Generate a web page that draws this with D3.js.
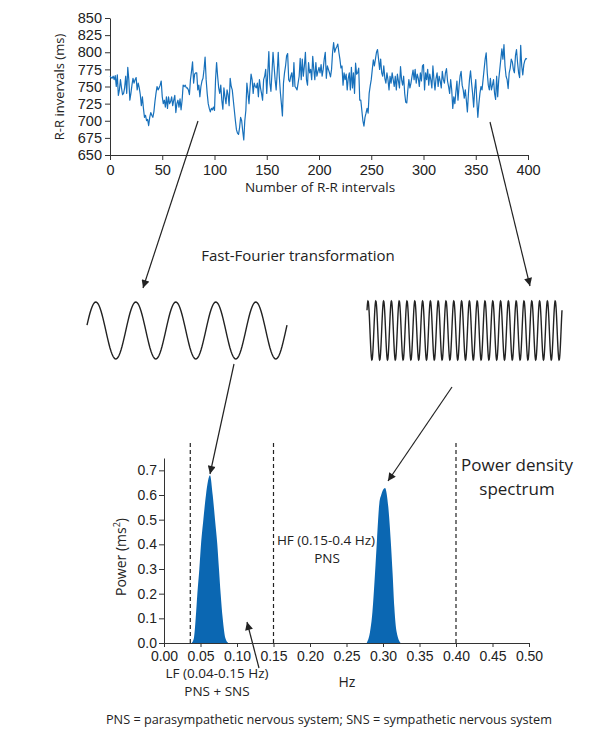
<!DOCTYPE html>
<html>
<head>
<meta charset="utf-8">
<script src="https://cdn.jsdelivr.net/npm/d3@7"></script>
<style>
  body { margin: 0; background: #fff; }
  svg { display: block; font-family: "Open Sans", sans-serif; }
  .axis path, .axis line { stroke: #333; }
  .axis text { fill: #222; }
</style>
</head>
<body>
<div id="chart"></div>
<script>
// R-R intervals (ms), one per beat, index 0..399
var rrValues = [
  765, 763, 762, 765, 760, 766, 750, 767, 737, 745,
  760, 748, 738, 740, 748, 765, 740, 778, 760, 730,
  740, 752, 762, 755, 760, 763, 745, 755, 748, 738,
  722, 735, 718, 705, 708, 700, 702, 693, 705, 712,
  708, 705, 713, 728, 740, 750, 745, 748, 752, 758,
  735, 725, 730, 720, 735, 718, 735, 725, 728, 735,
  722, 730, 737, 712, 725, 730, 720, 732, 716, 730,
  752, 750, 752, 748, 748, 745, 738, 760, 772, 786,
  755, 768, 770, 770, 745, 752, 735, 750, 758, 762,
  775, 793, 760, 740, 725, 718, 713, 718, 716, 720,
  715, 760, 785, 765, 748, 740, 752, 730, 717, 748,
  735, 725, 745, 738, 722, 762, 750, 745, 730, 715,
  700, 687, 682, 680, 690, 705, 700, 685, 672, 700,
  715, 755, 740, 725, 748, 768, 760, 740, 755, 750,
  748, 755, 735, 760, 748, 740, 730, 760, 765, 775,
  740, 770, 801, 755, 743, 770, 800, 780, 760, 745,
  770, 800, 765, 742, 725, 707, 755, 770, 780, 795,
  798, 760, 757, 765, 770, 750, 785, 750, 748, 745,
  755, 765, 791, 760, 790, 765, 780, 800, 760, 752,
  785, 770, 775, 760, 794, 775, 760, 785, 765, 772,
  778, 770, 782, 765, 775, 790, 800, 762, 780, 775,
  770, 764, 775, 800, 814, 800, 805, 808, 812, 800,
  790, 777, 780, 752, 770, 760, 768, 745, 762, 770,
  745, 778, 748, 770, 740, 784, 768, 770, 777, 730,
  730, 715, 700, 692, 705, 711, 718, 711, 740, 751,
  760, 775, 789, 780, 790, 800, 804, 790, 775, 790,
  770, 765, 780, 762, 755, 770, 760, 745, 765, 755,
  770, 760, 750, 765, 745, 768, 758, 748, 779, 760,
  752, 765, 740, 727, 726, 745, 760, 748, 755, 765,
  774, 760, 775, 755, 768, 762, 750, 770, 758, 780,
  782, 745, 770, 760, 775, 752, 768, 760, 748, 780,
  760, 745, 762, 770, 750, 765, 758, 748, 772, 760,
  755, 770, 776, 758, 750, 740, 760, 745, 718, 735,
  725, 742, 758, 730, 750, 765, 772, 752, 745, 733,
  745, 730, 713, 740, 760, 773, 755, 740, 720, 745,
  760, 730, 705, 725, 740, 750, 745, 760, 775, 790,
  799, 770, 752, 745, 762, 745, 752, 760, 740, 731,
  765, 735, 760, 775, 790, 805, 790, 811, 780, 765,
  760, 747, 770, 777, 790, 786, 775, 770, 795, 804,
  785, 770, 763, 810, 780, 767, 782, 788, 791, 790
];
var rrTicksX = [0, 50, 100, 150, 200, 250, 300, 350, 400];
var rrTicksY = [650, 675, 700, 725, 750, 775, 800, 825, 850];

// power spectrum peaks (Hz, ms^2)
var lfHz  = [0.038, 0.041, 0.0434, 0.0457, 0.0484, 0.0507, 0.0539, 0.0575, 0.063, 0.0667, 0.0699, 0.073, 0.0753, 0.0776, 0.0804, 0.084, 0.088];
var lfPow = [0, 0.02, 0.1, 0.2, 0.3, 0.4, 0.5, 0.6, 0.68, 0.6, 0.5, 0.4, 0.3, 0.2, 0.1, 0.02, 0];
var hfHz  = [0.2777, 0.2822, 0.2849, 0.289, 0.2918, 0.295, 0.2975, 0.3027, 0.3073, 0.3105, 0.3132, 0.3155, 0.3187, 0.3242];
var hfPow = [0, 0.045, 0.106, 0.28, 0.42, 0.567, 0.6, 0.628, 0.55, 0.42, 0.28, 0.146, 0.045, 0];
var bandEdges = [0.036, 0.15, 0.40];
var hzTicks = [0, 0.05, 0.1, 0.15, 0.2, 0.25, 0.3, 0.35, 0.4, 0.45, 0.5];
var powTicks = [0, 0.1, 0.2, 0.3, 0.4, 0.5, 0.6, 0.7];

// schematic waves: number of cycles drawn
var waveCycles = [5, 25];

var W = 599, H = 738;
var blue = "#0b67b2";
var ink = "#222";

var svg = d3.select("#chart").append("svg")
    .attr("width", W)
    .attr("height", H);

svg.append("defs").append("marker")
    .attr("id", "head")
    .attr("viewBox", "0 0 10 10")
    .attr("refX", 10).attr("refY", 5)
    .attr("markerWidth", 10).attr("markerHeight", 8)
    .attr("markerUnits", "userSpaceOnUse")
    .attr("orient", "auto")
  .append("path")
    .attr("d", "M0,0 L10,5 L0,10 Z")
    .attr("fill", ink);

// ---------- top: R-R tachogram ----------
var xTop = d3.scaleLinear().domain([0, 400]).range([110, 528]);
var yTop = d3.scaleLinear().domain([650, 850]).range([155, 18]);

svg.append("g")
    .attr("class", "axis")
    .attr("transform", "translate(0,155)")
    .call(d3.axisBottom(xTop).tickValues(rrTicksX).tickSize(5).tickSizeOuter(0))
    .call(g => g.selectAll("text").attr("font-size", 14.5).attr("dy", "0.85em"));

svg.append("g")
    .attr("class", "axis")
    .attr("transform", "translate(110,0)")
    .call(d3.axisLeft(yTop).tickValues(rrTicksY).tickSize(5).tickSizeOuter(0))
    .call(g => g.selectAll("text").attr("font-size", 14.5).attr("x", -8));

svg.append("path")
    .datum(rrValues)
    .attr("fill", "none")
    .attr("stroke", "#1770bb")
    .attr("stroke-width", 1.2)
    .attr("stroke-linejoin", "round")
    .attr("d", d3.line().x((d, i) => xTop(i)).y(d => yTop(d)));

svg.append("text")
    .attr("transform", "translate(64,87) rotate(-90)")
    .attr("text-anchor", "middle")
    .attr("font-size", 13)
    .attr("fill", ink)
    .text("R-R invervals (ms)");

svg.append("text")
    .attr("x", 320).attr("y", 192)
    .attr("text-anchor", "middle")
    .attr("font-size", 13.5)
    .attr("fill", ink)
    .text("Number of R-R intervals");

// ---------- middle: FFT sketch ----------
svg.append("text")
    .attr("x", 298).attr("y", 261)
    .attr("text-anchor", "middle")
    .attr("font-size", 15)
    .attr("fill", ink)
    .text("Fast-Fourier transformation");

function wave(cycles, x0, x1, phase, amp) {
    var t = d3.scaleLinear().domain([0, cycles]).range([x0, x1]);
    var n = cycles * 40;
    var pts = d3.range(n + 1).map(k => {
        var c = k / n * cycles;
        return [t(c), 330.5 - amp * Math.sin(2 * Math.PI * (c + phase))];
    });
    svg.append("path")
        .attr("d", d3.line()(pts))
        .attr("fill", "none")
        .attr("stroke", ink)
        .attr("stroke-width", 1.4);
}
wave(waveCycles[0], 87, 287, 0.03, 28.5);
wave(waveCycles[1], 367, 562, 0.12, 29.5);

function arrow(x1, y1, x2, y2) {
    svg.append("line")
        .attr("x1", x1).attr("y1", y1)
        .attr("x2", x2).attr("y2", y2)
        .attr("stroke", ink)
        .attr("stroke-width", 1.2)
        .attr("marker-end", "url(#head)");
}
arrow(198, 121, 143, 288);
arrow(490, 122, 530, 286);
arrow(234, 364, 210, 474);
arrow(452, 387, 388, 481);
arrow(259, 668, 247, 622);

// ---------- bottom: power density spectrum ----------
var xHz = d3.scaleLinear().domain([0, 0.5]).range([164, 529]);
var yPow = d3.scaleLinear().domain([0, 0.75]).range([643, 458]);

svg.selectAll(".band")
    .data(bandEdges)
    .join("line")
    .attr("class", "band")
    .attr("x1", d => xHz(d)).attr("x2", d => xHz(d))
    .attr("y1", 443).attr("y2", 643)
    .attr("stroke", ink)
    .attr("stroke-width", 1.2)
    .attr("stroke-dasharray", "4,3");

var area = d3.area()
    .x(d => xHz(d[0]))
    .y0(yPow(0))
    .y1(d => yPow(d[1]))
    .curve(d3.curveMonotoneX);

[[lfHz, lfPow], [hfHz, hfPow]].forEach(p => {
    svg.append("path")
        .datum(p[0].map((h, i) => [h, p[1][i]]))
        .attr("fill", blue)
        .attr("d", area);
});

svg.append("g")
    .attr("class", "axis")
    .attr("transform", "translate(0,643)")
    .call(d3.axisBottom(xHz).tickValues(hzTicks).tickFormat(d3.format(".2f")).tickSize(4).tickSizeOuter(0))
    .call(g => g.selectAll("text").attr("font-size", 14).attr("dy", "0.8em"));

svg.append("g")
    .attr("class", "axis")
    .attr("transform", "translate(164,0)")
    .call(d3.axisLeft(yPow).tickValues(powTicks).tickFormat(d3.format(".1f")).tickSize(5).tickSizeOuter(0))
    .call(g => g.selectAll("text").attr("font-size", 14).attr("x", -7));

var yl = svg.append("text")
    .attr("transform", "translate(126,557) rotate(-90)")
    .attr("text-anchor", "middle")
    .attr("font-size", 14)
    .attr("fill", ink);
yl.append("tspan").text("Power (ms");
yl.append("tspan").attr("font-size", 9).attr("dy", -6).text("2");
yl.append("tspan").attr("dy", 6).text(")");

svg.append("text")
    .attr("x", 347).attr("y", 687)
    .attr("text-anchor", "middle")
    .attr("font-size", 14)
    .attr("fill", ink)
    .text("Hz");

var small = [
    ["HF (0.15-0.4 Hz)", 326, 545],
    ["PNS", 327, 563],
    ["LF (0.04-0.15 Hz)", 217, 678],
    ["PNS + SNS", 217, 696]
];
svg.selectAll(".note")
    .data(small)
    .join("text")
    .attr("class", "note")
    .attr("x", d => d[1]).attr("y", d => d[2])
    .attr("text-anchor", "middle")
    .attr("font-size", 13.5)
    .attr("fill", ink)
    .text(d => d[0]);

svg.append("text")
    .attr("x", 517).attr("y", 471)
    .attr("text-anchor", "middle")
    .attr("font-size", 17)
    .attr("fill", ink)
    .text("Power density");
svg.append("text")
    .attr("x", 517).attr("y", 495)
    .attr("text-anchor", "middle")
    .attr("font-size", 17)
    .attr("fill", ink)
    .text("spectrum");

svg.append("text")
    .attr("x", 329).attr("y", 724)
    .attr("text-anchor", "middle")
    .attr("font-size", 12.7)
    .attr("fill", ink)
    .text("PNS = parasympathetic nervous system; SNS = sympathetic nervous system");
</script>
</body>
</html>
